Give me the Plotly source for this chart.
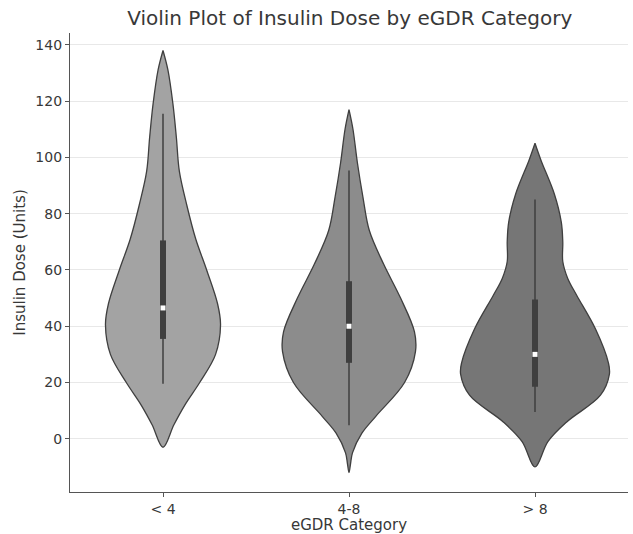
import plotly.graph_objects as go

# ---- data ----
categories = ["< 4", "4-8", "> 8"]

# density profiles (dose level, relative half-width)
dose_lt4 = [-3, 5, 12, 20, 30, 40.5, 48, 60, 71, 83, 95, 107, 119, 131, 138]
dens_lt4 = [0, 11, 22, 37, 53, 58, 55, 44, 33, 24, 16.5, 13.5, 10, 5, 0]

dose_4to8 = [-12, -9, -5, 2, 8, 20, 31, 38, 50, 62, 74, 86, 98, 110, 117]
dens_4to8 = [0, 1.5, 3.5, 13, 27, 56, 67, 66, 52, 35, 20.5, 14, 8.5, 4, 0]

dose_gt8 = [-10, -1, 6, 15.5, 23, 27, 39, 51, 57, 63, 70, 77, 87, 99, 105]
dens_gt8 = [0, 13, 32, 66, 75, 74, 61, 42, 33, 28, 28, 26.5, 19.5, 6, 0]

# box statistics: whisker low, q1, median, q3, whisker high
whisk_lo = [19.6, 4.8, 9.5]
q1 = [35.5, 27, 18.5]
median = [46.5, 40, 30]
q3 = [70.5, 56, 49.5]
whisk_hi = [115.5, 95.3, 85]

fill_colors = ["#a3a3a3", "#8c8c8c", "#767676"]
edge_color = "#3f3f3f"

profiles = [(dose_lt4, dens_lt4), (dose_4to8, dens_4to8), (dose_gt8, dens_gt8)]
max_d = max(max(d) for _, d in profiles)
half_width = 0.4

fig = go.Figure()
for i, (ys, ds) in enumerate(profiles):
    w = [d / max_d * half_width for d in ds]
    xs = [i + v for v in w] + [i - v for v in reversed(w)]
    yy = list(ys) + list(reversed(ys))
    fig.add_trace(go.Scatter(
        x=xs, y=yy, mode="lines", fill="toself",
        fillcolor=fill_colors[i],
        line=dict(color=edge_color, width=1.3, shape="spline", smoothing=1.0),
        showlegend=False, hoverinfo="skip"))
    # whisker
    fig.add_trace(go.Scatter(
        x=[i, i], y=[whisk_lo[i], whisk_hi[i]], mode="lines",
        line=dict(color=edge_color, width=1.5), showlegend=False, hoverinfo="skip"))
    # box
    fig.add_trace(go.Scatter(
        x=[i, i], y=[q1[i], q3[i]], mode="lines",
        line=dict(color=edge_color, width=6), showlegend=False, hoverinfo="skip"))
    # median
    fig.add_trace(go.Scatter(
        x=[i], y=[median[i]], mode="markers",
        marker=dict(color="white", size=5, symbol="square", line=dict(width=0)),
        showlegend=False, hoverinfo="skip"))

font_family = "DejaVu Sans"
fig.update_layout(
    width=633, height=534,
    margin=dict(l=70, r=5, t=33, b=40),
    paper_bgcolor="white", plot_bgcolor="white",
    font=dict(family=font_family, size=14, color="#383838"),
    title=dict(text="Violin Plot of Insulin Dose by eGDR Category",
               x=0.5525, xanchor="center", y=0.966, yanchor="middle",
               font=dict(size=20, color="#383838")),
    xaxis=dict(
        range=[-0.5, 2.5], tickmode="array", tickvals=[0, 1, 2], ticktext=categories,
        showline=True, linecolor="#555555", linewidth=1.3,
        ticks="outside", ticklen=4, tickcolor="#555555",
        showgrid=False, zeroline=False, tickfont=dict(size=14),
        title=dict(text="eGDR Category", standoff=2, font=dict(size=15)),
    ),
    yaxis=dict(
        range=[-18.9, 144.2], tickmode="array", tickvals=[0, 20, 40, 60, 80, 100, 120, 140],
        showline=True, linecolor="#555555", linewidth=1.3,
        ticks="outside", ticklen=4, tickcolor="#555555",
        showgrid=True, gridcolor="#e8e8e8", gridwidth=1, zeroline=False,
        tickfont=dict(size=14),
        title=dict(text="Insulin Dose (Units)", standoff=6, font=dict(size=15)),
    ),
)

fig.write_html("out.html")
